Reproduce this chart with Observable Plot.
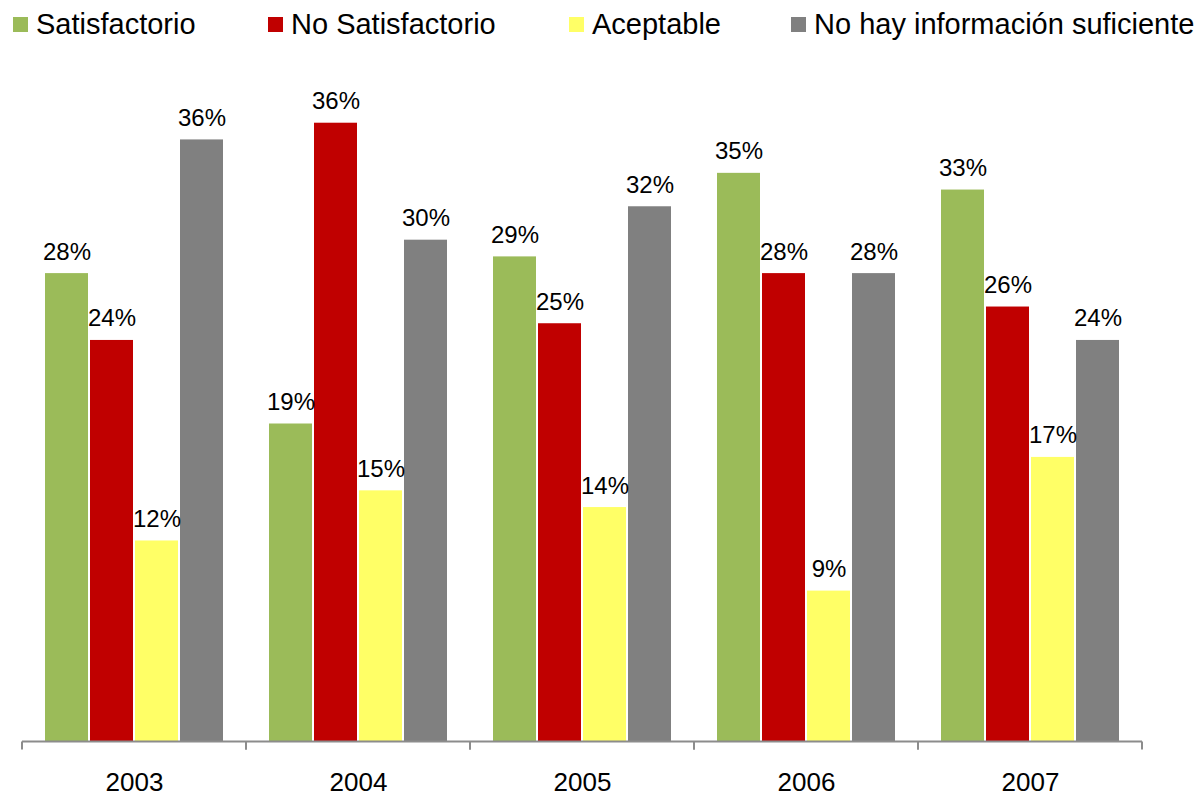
<!DOCTYPE html>
<html>
<head>
<meta charset="utf-8">
<script src="https://cdn.jsdelivr.net/npm/d3@7"></script>
<script src="https://cdn.jsdelivr.net/npm/@observablehq/plot@0.6"></script>
<style>
  body { margin: 0; background: #fff; font-family: "Liberation Sans", Arial, sans-serif; }
  #legend { position: relative; width: 1202px; height: 50px; }
  .item { position: absolute; top: 6px; height: 36px; display: flex; align-items: center; font-size: 29px; color: #000; white-space: nowrap; }
  .sw { display: inline-block; width: 15px; height: 15px; margin-right: 8px; }
</style>
</head>
<body>
<div id="legend"></div>
<div id="chart"></div>
<script>
// ---- data ----
const years = ["2003", "2004", "2005", "2006", "2007"];
const series = ["Satisfactorio", "No Satisfactorio", "Aceptable", "No hay información suficiente"];
const colors = ["#9BBB59", "#C00000", "#FFFF66", "#808080"];

// bar heights as drawn (%)
const satisfactorio   = [28, 19, 29, 34, 33];
const noSatisfactorio = [24, 37, 25, 28, 26];
const aceptable       = [12, 15, 14, 9, 17];
const noInformacion   = [36, 30, 32, 28, 24];

// printed data labels
const satisfactorioLabels   = ["28%", "19%", "29%", "35%", "33%"];
const noSatisfactorioLabels = ["24%", "36%", "25%", "28%", "26%"];
const aceptableLabels       = ["12%", "15%", "14%", "9%", "17%"];
const noInformacionLabels   = ["36%", "30%", "32%", "28%", "24%"];

const legendLeft = [13, 268, 569, 791];

// ---- build table ----
const seriesValues = [satisfactorio, noSatisfactorio, aceptable, noInformacion];
const seriesLabels = [satisfactorioLabels, noSatisfactorioLabels, aceptableLabels, noInformacionLabels];
const rows = [];
years.forEach((year, i) => {
  series.forEach((s, j) => {
    rows.push({year, series: s, value: seriesValues[j][i], label: seriesLabels[j][i]});
  });
});

// ---- legend ----
const legend = document.getElementById("legend");
series.forEach((s, j) => {
  const item = document.createElement("div");
  item.className = "item";
  item.style.left = legendLeft[j] + "px";
  const sw = document.createElement("span");
  sw.className = "sw";
  sw.style.background = colors[j];
  item.appendChild(sw);
  item.appendChild(document.createTextNode(s));
  legend.appendChild(item);
});

// ---- chart ----
const axisColor = "#8c8c8c";
const chart = Plot.plot({
  width: 1202,
  height: 747,
  marginLeft: 22,
  marginRight: 60,
  marginTop: 56,
  marginBottom: 56,
  fx: {domain: years, padding: 0, label: null, tickSize: 0, tickPadding: 31},
  x: {domain: series, axis: null, paddingInner: 0.04, paddingOuter: 0.46},
  y: {domain: [0, 38], axis: null},
  color: {domain: series, range: colors},
  style: {fontFamily: "'Liberation Sans', Arial, sans-serif", fontSize: "26px", color: "#000", background: "transparent"},
  marks: [
    Plot.barY(rows, {fx: "year", x: "series", y: "value", fill: "series"}),
    Plot.text(rows, {fx: "year", x: "series", y: "value", text: "label", lineAnchor: "bottom", dy: -14, fontSize: 24, fill: "#000"}),
    Plot.ruleY([0], {
      stroke: axisColor,
      strokeWidth: 2,
      render(index, scales, values, dimensions, context, next) {
        const g = next(index, scales, values, dimensions, context);
        const [a, b] = scales.x.range();
        const y0 = scales.y(0);
        for (const xp of [a, b]) {
          const line = document.createElementNS("http://www.w3.org/2000/svg", "line");
          line.setAttribute("x1", xp);
          line.setAttribute("x2", xp);
          line.setAttribute("y1", y0);
          line.setAttribute("y2", y0 + 8);
          line.setAttribute("stroke", axisColor);
          line.setAttribute("stroke-width", 2);
          g.appendChild(line);
        }
        return g;
      }
    })
  ]
});
document.getElementById("chart").appendChild(chart);
</script>
</body>
</html>
